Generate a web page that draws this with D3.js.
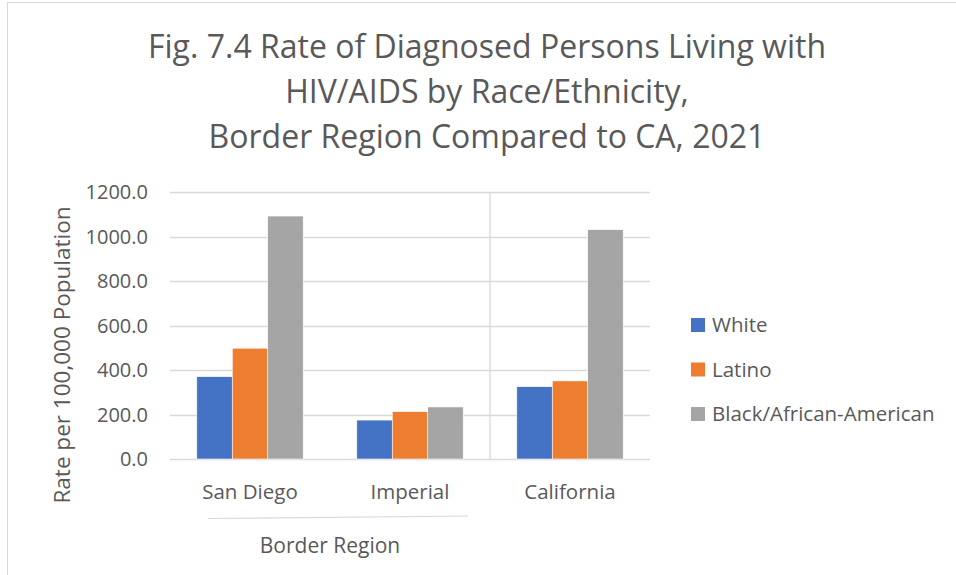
<!DOCTYPE html>
<html>
<head>
<meta charset="utf-8">
<script src="https://cdn.jsdelivr.net/npm/d3@7"></script>
<style>
  body { margin: 0; background: #fff; }
  svg text { font-family: "Open Sans", sans-serif; fill: #595959; }
</style>
</head>
<body>
<svg id="chart" width="956" height="575"></svg>
<script>
// chart data
var categories = ["San Diego", "Imperial", "California"];
var seriesNames = ["White", "Latino", "Black/African-American"];
var white = [370, 175, 325];
var latino = [498, 213, 351];
var black = [1092, 234, 1031];
var yTicks = [0, 200, 400, 600, 800, 1000, 1200];
var titleLines = ["Fig. 7.4 Rate of Diagnosed Persons Living with",
                  "HIV/AIDS by Race/Ethnicity,",
                  "Border Region Compared to CA, 2021"];
var groupLabel = "Border Region";
var colors = ["#4472C4", "#ED7D31", "#A5A5A5"];

var svg = d3.select("#chart");
var plotL = 170, plotR = 650, plotT = 192, plotB = 459;

// outer chart border (only top and left are visible in the frame)
svg.append("rect")
  .attr("x", 7.5).attr("y", 2.5)
  .attr("width", 1000).attr("height", 1000)
  .attr("fill", "none").attr("stroke", "#d9d9d9");

// title
svg.append("g").selectAll("text").data(titleLines).enter().append("text")
  .attr("x", 487)
  .attr("y", function(d, i) { return 58 + i * 45; })
  .attr("text-anchor", "middle")
  .attr("font-size", 32)
  .text(function(d) { return d; });

var y = d3.scaleLinear().domain([0, 1200]).range([plotB, plotT]);
var x0 = d3.scaleBand().domain(categories).range([plotL, plotR])
  .paddingInner(0.335).paddingOuter(0.1675);
var x1 = d3.scaleBand().domain(seriesNames).range([0, x0.bandwidth()]);

// gridlines
svg.append("g").selectAll("line").data(yTicks).enter().append("line")
  .attr("x1", plotL).attr("x2", plotR)
  .attr("y1", function(d) { return Math.round(y(d)) + 0.5; })
  .attr("y2", function(d) { return Math.round(y(d)) + 0.5; })
  .attr("stroke", "#d9d9d9").attr("stroke-width", 1.3);

// y tick labels
svg.append("g").selectAll("text").data(yTicks).enter().append("text")
  .attr("x", 148)
  .attr("y", function(d) { return y(d); })
  .attr("dy", "0.36em")
  .attr("text-anchor", "end")
  .attr("font-size", 20)
  .text(function(d) { return d3.format(".1f")(d); });

// separator between border region and California
var sepX = x0("California") - x0.step() * x0.paddingInner() / 2;
svg.append("line")
  .attr("x1", sepX).attr("x2", sepX)
  .attr("y1", plotT).attr("y2", plotB)
  .attr("stroke", "#d9d9d9").attr("stroke-width", 1.3);

// bars
var rows = categories.map(function(c, i) {
  return { cat: c, vals: [white[i], latino[i], black[i]] };
});
var groups = svg.append("g").selectAll("g").data(rows).enter().append("g")
  .attr("transform", function(d) { return "translate(" + x0(d.cat) + ",0)"; });
groups.selectAll("rect")
  .data(function(d) { return d.vals.map(function(v, j) { return { s: seriesNames[j], v: v, j: j }; }); })
  .enter().append("rect")
  .attr("x", function(d) { return x1(d.s); })
  .attr("y", function(d) { return y(d.v); })
  .attr("width", x1.bandwidth())
  .attr("height", function(d) { return plotB - y(d.v); })
  .attr("fill", function(d) { return colors[d.j]; })
  .attr("stroke", "#fff").attr("stroke-width", 0.6);

// category labels
svg.append("g").selectAll("text").data(categories).enter().append("text")
  .attr("x", function(d) { return x0(d) + x0.bandwidth() / 2; })
  .attr("y", 499)
  .attr("text-anchor", "middle")
  .attr("font-size", 20.5)
  .text(function(d) { return d; });

// group bracket line and label
var gx1 = x0("San Diego") + 11, gx2 = x0("Imperial") + x0.bandwidth() + 5;
svg.append("line")
  .attr("x1", gx1).attr("y1", 518.5)
  .attr("x2", gx2).attr("y2", 516)
  .attr("stroke", "#d9d9d9").attr("stroke-width", 1.2);
svg.append("text")
  .attr("x", (gx1 + gx2) / 2 - 8)
  .attr("y", 553)
  .attr("text-anchor", "middle")
  .attr("font-size", 21)
  .text(groupLabel);

// axis title
svg.append("text")
  .attr("transform", "translate(70,355) rotate(-90)")
  .attr("text-anchor", "middle")
  .attr("font-size", 22.5)
  .text("Rate per 100,000 Population");

// legend
var legend = svg.append("g").selectAll("g").data(seriesNames).enter().append("g")
  .attr("transform", function(d, i) { return "translate(691," + (325 + i * 44.5) + ")"; });
legend.append("rect")
  .attr("x", 0).attr("y", -7).attr("width", 14).attr("height", 14)
  .attr("fill", function(d, i) { return colors[i]; });
legend.append("text")
  .attr("x", 21).attr("y", 0).attr("dy", "0.36em")
  .attr("font-size", 20.5)
  .text(function(d) { return d; });
</script>
</body>
</html>
